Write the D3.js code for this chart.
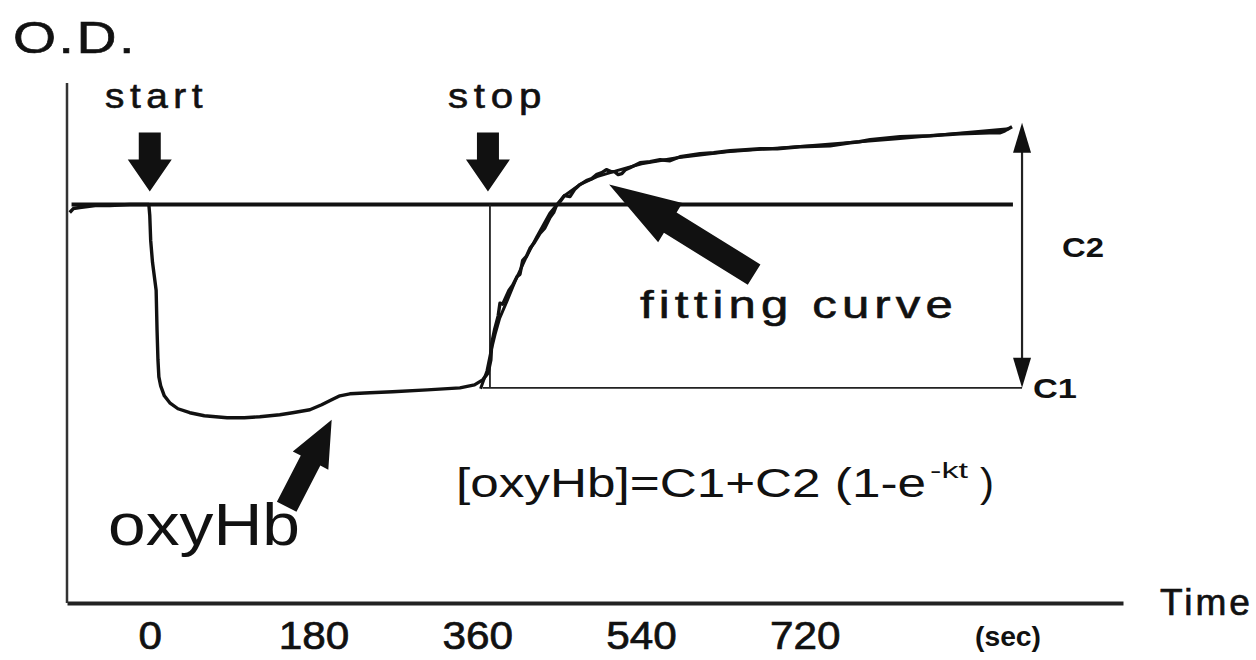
<!DOCTYPE html>
<html>
<head>
<meta charset="utf-8">
<script src="https://cdn.jsdelivr.net/npm/d3@7"></script>
<style>
  html, body { margin: 0; padding: 0; background: #fff; }
  svg { display: block; }
  text { font-family: "Liberation Sans", Arial, Helvetica, sans-serif; fill: #111; }
</style>
</head>
<body>
<svg id="chart" width="1256" height="660"></svg>
<script>
// ---- data (time in seconds, optical density change in arbitrary units) ----
const timeTicks = [0, 180, 360, 540, 720];
const tickLabels = ["0", "180", "360", "540", "720"];

// measured oxyHb trace: [time, O.D.]
const oxyHb = [
  [-88,-0.08],[-84,-0.04],[-77,-0.03],[-60,-0.01],[-44,-0.01],[-22,0],[-1,0],
  [0,-0.11],[1,-0.36],[3,-0.58],[7,-0.86],[8,-1.26],[9,-1.56],[10,-1.73],[12,-1.82],
  [16,-1.92],[22,-1.99],[31,-2.05],[44,-2.09],[60,-2.12],[85,-2.14],[104,-2.14],
  [121,-2.13],[143,-2.11],[157,-2.09],[176,-2.06],[189,-2.01],[200,-1.96],[209,-1.92],
  [220,-1.90],[242,-1.89],[267,-1.88],[305,-1.86],[341,-1.84],[357,-1.81],[366,-1.76],
  [372,-1.69],[375,-1.56],[376,-1.39],[379,-1.26],[383,-1.12],[385,-0.99],[388,-1.00],
  [391,-0.94],[395,-0.86],[399,-0.81],[404,-0.72],[407,-0.70],[410,-0.56],[414,-0.52],
  [418,-0.44],[423,-0.38],[429,-0.29],[434,-0.24],[440,-0.13],[444,-0.08],[447,-0.01],
  [452,0.04],[456,0.09],[462,0.08],[467,0.15],[473,0.20],[480,0.24],[486,0.26],
  [491,0.30],[497,0.32],[502,0.35],[507,0.33],[511,0.33],[515,0.30],[519,0.31],
  [523,0.35],[528,0.37],[539,0.42],[550,0.43],[561,0.45],[572,0.44],[583,0.48],
  [605,0.51],[620,0.52],[638,0.54],[655,0.55],[671,0.56],[690,0.56],[715,0.58],
  [748,0.59],[770,0.62],[780,0.63],[792,0.65],[825,0.68],[858,0.69],[891,0.71],
  [923,0.72],[935,0.72],[940,0.74],[948,0.78]
];

// fitted recovery curve: [time, O.D.]
const fitCurve = [
  [367,-1.84],[374,-1.66],[378,-1.48],[383,-1.29],[388,-1.13],[396,-0.96],[405,-0.76],
  [416,-0.54],[429,-0.31],[443,-0.08],[458,0.09],[476,0.21],[495,0.29],[517,0.35],
  [544,0.42],[583,0.48],[638,0.54],[715,0.59],[825,0.67],[948,0.77]
];

const baselineLevel = 0;     // resting level
const levelC1 = -1.84;       // C1 (level at stop)
const levelTop = 0.82;       // C1 + C2
const tStart = 0;
const tStop = 374;
const baselineSpan = [-86, 949];
const c1Span = [366, 959];
const tArrow = 959;

// ---- scales ----
const svg = d3.select("#chart");
const x = d3.scaleLinear().domain([-91, 1070]).range([67, 1123]);
const y = d3.scaleLinear().domain([-4, 1.2]).range([603, 85]);

// ---- axes ----
const xAxis = d3.axisBottom(x)
  .tickValues(timeTicks)
  .tickFormat((d, i) => tickLabels[i])
  .tickSize(0).tickSizeOuter(0).tickPadding(0);
const gx = svg.append("g").attr("transform", `translate(0,${y(-4)})`).call(xAxis);
gx.select(".domain").attr("stroke", "#222").attr("stroke-width", 4);
gx.selectAll(".tick text")
  .attr("y", 46).attr("dy", null)
  .attr("font-size", 38)
  .attr("font-family", "'Liberation Sans', Arial, sans-serif")
  .attr("fill", "#111")
  .attr("stroke", "#111").attr("stroke-width", 0.7)
  .attr("textLength", (d, i) => tickLabels[i].length * 23.5)
  .attr("lengthAdjust", "spacingAndGlyphs");

const yAxis = d3.axisLeft(y).tickValues([]).tickSize(0).tickSizeOuter(0);
const gy = svg.append("g").attr("transform", `translate(${x(-91)},0)`).call(yAxis);
gy.select(".domain").attr("stroke", "#333").attr("stroke-width", 2.5)
  .attr("d", `M0,${y(-4)}V${y(1.22)}`);

// ---- reference lines ----
svg.append("line")
  .attr("x1", x(baselineSpan[0])).attr("x2", x(baselineSpan[1]))
  .attr("y1", y(baselineLevel)).attr("y2", y(baselineLevel))
  .attr("stroke", "#111").attr("stroke-width", 4);

svg.append("line")
  .attr("x1", x(c1Span[0])).attr("x2", x(c1Span[1]))
  .attr("y1", y(levelC1)).attr("y2", y(levelC1))
  .attr("stroke", "#222").attr("stroke-width", 1.8);

svg.append("line")
  .attr("x1", x(tStop)).attr("x2", x(tStop))
  .attr("y1", y(baselineLevel)).attr("y2", y(levelC1))
  .attr("stroke", "#222").attr("stroke-width", 1.8);

// ---- curves ----
const line = d3.line().x(d => x(d[0])).y(d => y(d[1]));
svg.append("path").datum(fitCurve).attr("d", line)
  .attr("fill", "none").attr("stroke", "#111").attr("stroke-width", 3)
  .attr("stroke-linejoin", "round").attr("transform", "translate(-3,1)");
svg.append("path").datum(oxyHb).attr("d", line)
  .attr("fill", "none").attr("stroke", "#111").attr("stroke-width", 3.4)
  .attr("stroke-linejoin", "round");

// ---- C2 double arrow ----
const ax = x(tArrow);
const yTop = y(levelTop), yBot = y(levelC1);
svg.append("line").attr("x1", ax).attr("x2", ax)
  .attr("y1", yTop + 20).attr("y2", yBot - 20)
  .attr("stroke", "#222").attr("stroke-width", 2.2);
svg.append("path").attr("fill", "#111")
  .attr("d", `M${ax},${yTop}L${ax - 9},${yTop + 30}L${ax + 9},${yTop + 30}Z`);
svg.append("path").attr("fill", "#111")
  .attr("d", `M${ax},${yBot}L${ax - 9},${yBot - 30}L${ax + 9},${yBot - 30}Z`);

// ---- block arrows ----
function blockArrow(tip, tail, shaftW, headW, headL) {
  const dx = tip[0] - tail[0], dy = tip[1] - tail[1];
  const len = Math.hypot(dx, dy);
  const ux = dx / len, uy = dy / len, px = -uy, py = ux;
  const bx = tip[0] - ux * headL, by = tip[1] - uy * headL;
  const pts = [
    [tail[0] + px * shaftW / 2, tail[1] + py * shaftW / 2],
    [bx + px * shaftW / 2, by + py * shaftW / 2],
    [bx + px * headW / 2, by + py * headW / 2],
    tip,
    [bx - px * headW / 2, by - py * headW / 2],
    [bx - px * shaftW / 2, by - py * shaftW / 2],
    [tail[0] - px * shaftW / 2, tail[1] - py * shaftW / 2]
  ];
  svg.append("path").attr("fill", "#111").attr("d", "M" + pts.map(p => p.join(",")).join("L") + "Z");
}
// start / stop markers
blockArrow([x(tStart), y(baselineLevel) - 13], [x(tStart), y(baselineLevel) - 72], 22, 44, 32);
blockArrow([x(tStop) - 2, y(baselineLevel) - 13], [x(tStop) - 2, y(baselineLevel) - 72], 22, 44, 32);
// pointer to fitted curve
blockArrow([x(505), y(0.2)], [x(505) + 145, y(0.2) + 90], 24, 46, 72);
// pointer to oxyHb trace
blockArrow([x(200), y(-2.16)], [x(200) - 45, y(-2.16) + 87], 22, 40, 46);

// ---- labels ----
function label(txt, x0, base, size, width, opts = {}) {
  const t = svg.append("text").attr("x", x0).attr("y", base)
    .attr("font-size", size).text(txt);
  if (width) t.attr("textLength", width).attr("lengthAdjust", "spacingAndGlyphs");
  if (opts.spacing) t.attr("letter-spacing", opts.spacing);
  if (opts.weight) t.attr("font-weight", opts.weight);
  if (opts.stroke) t.attr("stroke", "#111").attr("stroke-width", opts.stroke);
  return t;
}
label("O.D.", 13, 53, 44, 124, { spacing: 2, stroke: 0.6 });
label("start", 105, 108, 35, 103, { spacing: 5, stroke: 0.6 });
label("stop", 448, 108, 35, 99, { spacing: 5, stroke: 0.6 });
label("fitting curve", 640, 318, 38, 318, { spacing: 4, stroke: 0.6 });
label("oxyHb", 108, 545, 60, 192);
label("[oxyHb]=C1+C2 (1-e", 456, 497, 41, 470);
label("-kt", 930, 478, 22, 38);
label(")", 980, 497, 41, 14);
label("C2", 1062, 257, 27, 42, { weight: "bold" });
label("C1", 1033, 398, 27, 44, { weight: "bold" });
label("Time", 1160, 615, 37, 93, { spacing: 3, stroke: 0.7 });
label("(sec)", 975, 646, 27, 66, { weight: "bold" });
</script>
</body>
</html>
